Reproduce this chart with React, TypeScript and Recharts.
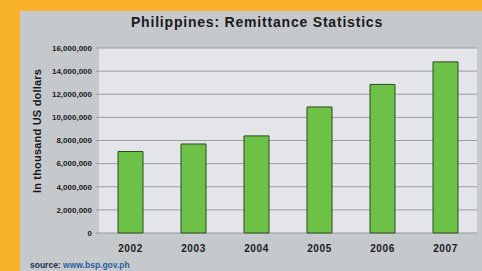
import { BarChart, Bar, XAxis, YAxis, CartesianGrid } from 'recharts'

const years = ['2002', '2003', '2004', '2005', '2006', '2007']
const remittances = [7050000, 7700000, 8400000, 10900000, 12850000, 14800000]
const yTicks = [0, 2000000, 4000000, 6000000, 8000000, 10000000, 12000000, 14000000, 16000000]

const data = years.map((year, i) => ({ year, value: remittances[i] }))

const font = 'Arial, "Liberation Sans", sans-serif'

function App() {
    return (
        <div style={{ position: 'absolute', left: 0, top: 0, width: 482, height: 271, background: '#F7B12B', overflow: 'hidden', fontFamily: font }}>
            <div style={{ position: 'absolute', left: 20, top: 11, width: 470, height: 270, background: '#C6C9CC' }} />
            <div style={{ position: 'absolute', left: 20, top: 14, width: 474, textAlign: 'center', fontWeight: 'bold', fontSize: 14, letterSpacing: 0.8, color: '#1a1a1a' }}>
                Philippines: Remittance Statistics
            </div>
            <div style={{ position: 'absolute', left: 37, top: 131, width: 0, height: 0 }}>
                <div style={{ position: 'absolute', transform: 'translate(-50%, -50%) rotate(-90deg)', whiteSpace: 'nowrap', fontWeight: 'bold', fontSize: 11, letterSpacing: 0.2, color: '#1a1a1a' }}>
                    In thousand US dollars
                </div>
            </div>
            <div style={{ position: 'absolute', left: 30, top: 260, fontSize: 8.5, fontWeight: 'bold', whiteSpace: 'nowrap' }}>
                <span style={{ color: '#1f2f4f' }}>source: </span>
                <span style={{ color: '#2d5f9e' }}>www.bsp.gov.ph</span>
            </div>
            <div style={{ position: 'absolute', left: 0, top: 0 }}>
                <BarChart width={482} height={271} data={data} margin={{ top: 48, right: 5, bottom: 8, left: 39 }} barCategoryGap={19}>
                    <CartesianGrid vertical={false} stroke="#9a9c9f" fill="#E3E5E8" />
                    <XAxis dataKey="year" height={30} axisLine={false} tickLine={false} tickMargin={6}
                        tick={{ fontSize: 10, fontWeight: 'bold', letterSpacing: 0.6, fill: '#1a1a1a', fontFamily: font }} />
                    <YAxis width={60} domain={[0, 16000000]} ticks={yTicks} axisLine={false} tickSize={3} tickMargin={4}
                        tickLine={{ stroke: '#9a9c9f' }}
                        tickFormatter={(v: number) => v.toLocaleString('en-US')}
                        tick={{ fontSize: 8, fontWeight: 'bold', fill: '#1a1a1a', fontFamily: font }} />
                    <Bar dataKey="value" fill="#6CC146" stroke="#2e4a24" strokeWidth={1} isAnimationActive={false} />
                </BarChart>
            </div>
        </div>
    )
}

export default App
